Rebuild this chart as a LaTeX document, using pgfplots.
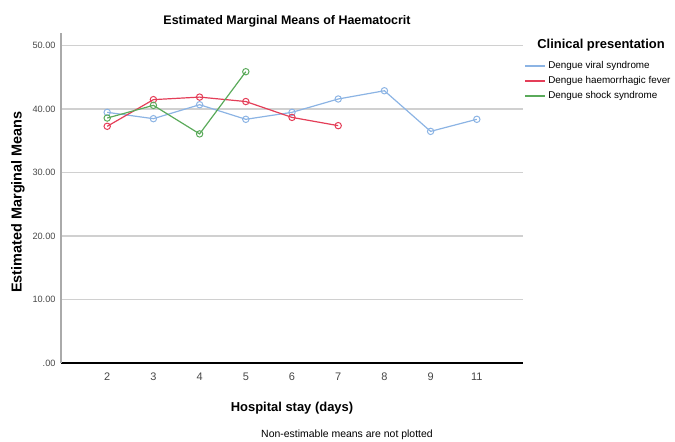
\documentclass[border=0pt]{standalone}
\usepackage{pgfplots}
\pgfplotsset{compat=1.18}
\usepackage{fontspec}
\setmainfont{Liberation Sans}

\definecolor{dvs}{RGB}{140,180,228}
\definecolor{dhf}{RGB}{228,62,88}
\definecolor{dss}{RGB}{90,170,90}
\definecolor{gridgray}{RGB}{208,208,208}
\definecolor{axisgray}{RGB}{170,170,170}
\definecolor{ticktext}{RGB}{70,70,70}

\begin{document}
\begin{tikzpicture}[x=1bp,y=1bp]
\path[use as bounding box] (0,0) rectangle (675,-442);
\begin{axis}[
  at={(61bp,-363bp)}, anchor=south west,
  scale only axis, width=462bp, height=330bp,
  xmin=-1, xmax=9, ymin=0, ymax=52,
  axis x line*=bottom, axis y line*=left,
  x axis line style={line width=2.6bp, black, -},
  y axis line style={line width=1.2bp, axisgray, -},
  xtick={0,...,8}, xticklabels={2,3,4,5,6,7,8,9,11},
  ytick={0,10,20,30,40,50},
  yticklabels={.00,10.00,20.00,30.00,40.00,50.00},
  major tick length=0pt,
  ymajorgrids, grid style={gridgray, line width=1.4bp},
  xticklabel style={font=\fontsize{11}{12}\selectfont, text=ticktext, anchor=center, yshift=-14bp},
  yticklabel style={font=\fontsize{9.2}{10}\selectfont, text=ticktext, anchor=east, xshift=-2bp},
  every axis plot/.append style={line width=1.2bp, mark=o, mark size=3.2bp, mark options={solid, line width=1bp}},
  legend style={at={(1.003,0.915)}, anchor=north west, draw=none, fill=none,
    font=\fontsize{9.9}{11}\selectfont, row sep=5.5bp, inner sep=0pt,
    nodes={inner sep=0pt, text height=7.5bp, text depth=2bp}},
  legend cell align=left,
  legend image code/.code={\draw[#1, mark=none] (0bp,0bp) -- (20bp,0bp); \path (22.5bp,0bp);},
  clip=false,
]
% Dengue viral syndrome
\addplot[dvs] coordinates {(0,39.5) (1,38.5) (2,40.7) (3,38.4) (4,39.5) (5,41.6) (6,42.9) (7,36.5) (8,38.4)};
% Dengue haemorrhagic fever
\addplot[dhf] coordinates {(0,37.3) (1,41.5) (2,41.9) (3,41.2) (4,38.7) (5,37.4)};
% Dengue shock syndrome
\addplot[dss] coordinates {(0,38.6) (1,40.6) (2,36.1) (3,45.9)};
\legend{Dengue viral syndrome, Dengue haemorrhagic fever, Dengue shock syndrome}
\end{axis}
\node[font=\bfseries\fontsize{12.5}{14}\selectfont] at (287,-21) {Estimated Marginal Means of Haematocrit};
\node[font=\bfseries\fontsize{13}{15}\selectfont] at (601,-45) {Clinical presentation};
\node[font=\bfseries\fontsize{14.5}{16}\selectfont, rotate=90] at (18,-202) {Estimated Marginal Means};
\node[font=\bfseries\fontsize{13}{15}\selectfont] at (292,-408) {Hospital stay (days)};
\node[font=\fontsize{10.5}{12}\selectfont] at (347,-435) {Non-estimable means are not plotted};
\end{tikzpicture}
\end{document}
